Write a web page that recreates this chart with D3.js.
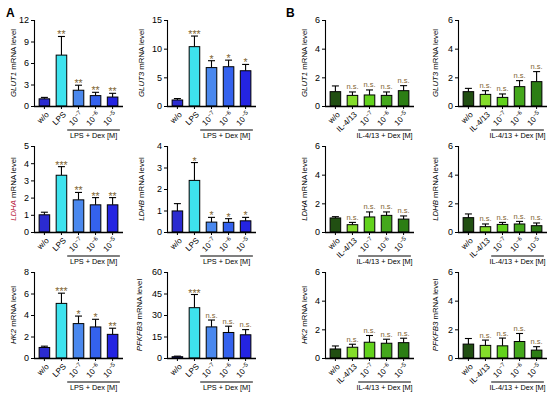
<!DOCTYPE html>
<html>
<head>
<meta charset="utf-8">
<script src="https://cdn.jsdelivr.net/npm/d3@7"></script>
<style>
  body { margin: 0; background: #fff; }
  svg { font-family: Arial, "Liberation Sans", sans-serif; }
</style>
</head>
<body>
<script>
const genes = ["GLUT1", "GLUT3", "LDHA", "LDHB", "HK2", "PFKFB3"];
const groupsA = ["w/o", "LPS", "-7", "-6", "-5"];
const groupsB = ["w/o", "IL-4/13", "-7", "-6", "-5"];
const colorsA = ["#2b2bd0", "#3ee3ee", "#4a88ee", "#3462ee", "#2424e2"];
const colorsB = ["#214f12", "#84dc2a", "#62d21c", "#44a81c", "#2c7e14"];

const yMaxA = [12, 15, 5, 4, 8, 60];
const yStepA = [3, 5, 1, 1, 2, 15];
const yMaxB = [6, 6, 6, 6, 6, 6];
const yStepB = [2, 2, 2, 2, 2, 2];

const meansA = [
  [1.0, 7.1, 2.2, 1.45, 1.25],
  [1.05, 10.35, 6.7, 6.85, 6.15],
  [1.0, 3.3, 1.87, 1.58, 1.58],
  [0.98, 2.4, 0.46, 0.45, 0.52],
  [0.98, 5.08, 3.2, 2.89, 2.2],
  [0.9, 35.1, 21.7, 17.8, 16.2]
];
const errorsA = [
  [0.2, 2.6, 0.7, 0.46, 0.52],
  [0.25, 1.85, 1.2, 1.15, 1.1],
  [0.15, 0.5, 0.43, 0.42, 0.42],
  [0.34, 0.83, 0.22, 0.17, 0.16],
  [0.12, 0.95, 0.7, 0.71, 0.57],
  [0.4, 9.2, 4.8, 4.4, 3.6]
];
const sigA = [
  ["", "**", "**", "**", "**"],
  ["", "***", "*", "*", "*"],
  ["", "***", "**", "**", "**"],
  ["", "*", "*", "*", "*"],
  ["", "***", "*", "*", "**"],
  ["", "***", "n.s.", "n.s.", "n.s."]
];

const meansB = [
  [1.0, 0.74, 0.77, 0.74, 1.07],
  [1.0, 0.81, 0.6, 1.35, 1.7],
  [0.98, 0.51, 1.05, 1.16, 0.9],
  [1.0, 0.37, 0.53, 0.56, 0.44],
  [0.63, 0.75, 1.1, 1.03, 1.07],
  [0.97, 0.88, 0.85, 1.15, 0.55]
];
const errorsB = [
  [0.4, 0.24, 0.35, 0.24, 0.35],
  [0.23, 0.26, 0.24, 0.42, 0.7],
  [0.09, 0.16, 0.35, 0.24, 0.22],
  [0.26, 0.19, 0.14, 0.18, 0.19],
  [0.21, 0.21, 0.47, 0.28, 0.31],
  [0.39, 0.37, 0.54, 0.56, 0.24]
];
const sigB = [
  ["", "n.s.", "n.s.", "n.s.", "n.s."],
  ["", "n.s.", "n.s.", "n.s.", "n.s."],
  ["", "n.s.", "n.s.", "n.s.", "n.s."],
  ["", "n.s.", "n.s.", "n.s.", "n.s."],
  ["", "n.s.", "n.s.", "n.s.", "n.s."],
  ["", "n.s.", "n.s.", "n.s.", "n.s."]
];

const dims = {
  width: 550,
  height: 398,
  plotW: 89,
  plotH: 86,
  rowTop: [20, 146, 272],
  colA: [34, 167],
  colB: [325, 458],
};

const svg = d3.select("body").append("svg")
  .attr("width", dims.width).attr("height", dims.height);

svg.append("text").attr("x", 6).attr("y", 17).attr("font-size", 12).attr("font-weight", "bold").text("A");
svg.append("text").attr("x", 286).attr("y", 17).attr("font-size", 12).attr("font-weight", "bold").text("B");

function barPanel(g, gene, groups, colors, means, errs, sigs, yMax, yStep, opts) {
  const x = d3.scaleBand().domain(groups).range([0, dims.plotW]).paddingInner(0.38).paddingOuter(0.3);
  const y = d3.scaleLinear().domain([0, yMax]).range([dims.plotH, 0]);
  const bw = x.bandwidth();
  const data = groups.map((k, i) => ({ k, m: means[i], e: errs[i], s: sigs[i], c: colors[i] }));

  // error bars (upper only)
  g.selectAll(".err").data(data).join("line")
    .attr("x1", d => x(d.k) + bw / 2).attr("x2", d => x(d.k) + bw / 2)
    .attr("y1", d => y(d.m)).attr("y2", d => y(d.m + d.e))
    .attr("stroke", "#000").attr("stroke-width", 1.1);
  g.selectAll(".cap").data(data).join("line")
    .attr("x1", d => x(d.k) + bw / 2 - 3.5).attr("x2", d => x(d.k) + bw / 2 + 3.5)
    .attr("y1", d => y(d.m + d.e)).attr("y2", d => y(d.m + d.e))
    .attr("stroke", "#000").attr("stroke-width", 1.1);

  g.selectAll(".bar").data(data).join("rect")
    .attr("x", d => x(d.k)).attr("width", bw)
    .attr("y", d => y(d.m)).attr("height", d => dims.plotH - y(d.m))
    .attr("fill", d => d.c).attr("stroke", "#000").attr("stroke-width", 1);

  // significance marks
  g.selectAll(".sig").data(data.filter(d => d.s)).join("text")
    .attr("x", d => x(d.k) + bw / 2)
    .attr("y", d => y(d.m + d.e) + (d.s === "n.s." ? -2.5 : 2))
    .attr("text-anchor", "middle")
    .attr("font-size", d => d.s === "n.s." ? 7.5 : 10.5)
    .attr("fill", "#7f6432")
    .text(d => d.s);

  const yAxis = g.append("g")
    .call(d3.axisLeft(y).tickValues(d3.range(0, yMax + 0.001, yStep))
      .tickFormat(d3.format("d")).tickSize(3).tickPadding(2));
  yAxis.select(".domain").attr("stroke-width", 1.1);
  yAxis.selectAll("text").attr("font-size", 9).attr("fill", "#000");

  const xAxis = g.append("g").attr("transform", `translate(0,${dims.plotH})`)
    .call(d3.axisBottom(x).tickSize(3).tickSizeOuter(0).tickFormat(""));
  xAxis.select(".domain").attr("d", `M0,0.5H${dims.plotW}`).attr("stroke-width", 1.3);

  // rotated tick labels
  const lab = g.selectAll(".xl").data(groups).join("text")
    .attr("transform", d => `translate(${x(d) + bw / 2 + 3},${dims.plotH + 7}) rotate(-45)`)
    .attr("text-anchor", "end").attr("dy", "0.35em")
    .attr("font-size", 8);
  lab.each(function (d) {
    const t = d3.select(this);
    if (d.startsWith("-")) {
      t.append("tspan").text("10");
      t.append("tspan").attr("dy", -3).attr("font-size", 6).text("\u2212" + d.slice(1));
    } else {
      t.text(d);
    }
  });

  // y label
  const yl = g.append("text")
    .attr("transform", `translate(${-opts.labelOff},${dims.plotH / 2}) rotate(-90)`)
    .attr("text-anchor", "middle").attr("font-size", 7.8);
  yl.append("tspan").attr("font-style", "italic").attr("fill", opts.geneColor || "#000").text(gene);
  yl.append("tspan").text(" mRNA level");

  // treatment bracket
  if (opts.bracket) {
    const x0 = x(groups[2]) - 6, x1 = x(groups[4]) + bw + 2;
    g.append("line").attr("x1", x0).attr("x2", x1)
      .attr("y1", dims.plotH + 24).attr("y2", dims.plotH + 24)
      .attr("stroke", "#000").attr("stroke-width", 1);
    g.append("text").attr("x", (x0 + x1) / 2).attr("y", dims.plotH + 32)
      .attr("text-anchor", "middle").attr("font-size", 7.3).text(opts.bracket);
  }
}

genes.forEach((gene, i) => {
  const row = Math.floor(i / 2), col = i % 2;
  const gA = svg.append("g").attr("transform", `translate(${dims.colA[col]},${dims.rowTop[row]})`);
  barPanel(gA, gene, groupsA, colorsA, meansA[i], errorsA[i], sigA[i], yMaxA[i], yStepA[i], {
    labelOff: col === 0 ? 18 : (row === 2 ? 25 : 23),
    geneColor: gene === "LDHA" ? "#b8203c" : null,
    bracket: "LPS + Dex [M]"
  });
  const gB = svg.append("g").attr("transform", `translate(${dims.colB[col]},${dims.rowTop[row]})`);
  barPanel(gB, gene, groupsB, colorsB, meansB[i], errorsB[i], sigB[i], yMaxB[i], yStepB[i], {
    labelOff: col === 0 ? 18 : 20,
    bracket: "IL-4/13 + Dex [M]"
  });
});
</script>
</body>
</html>
